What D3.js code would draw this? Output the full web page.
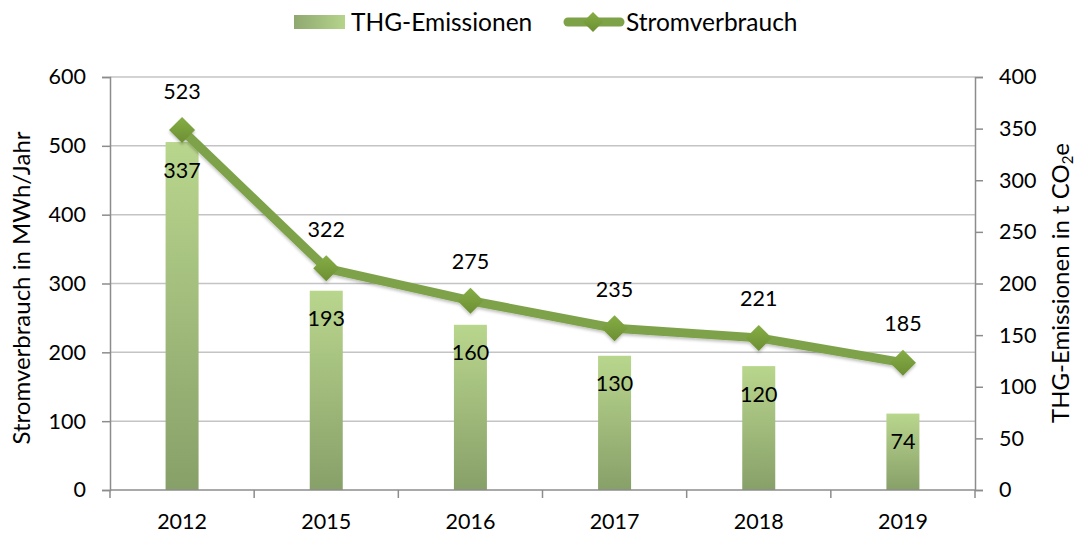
<!DOCTYPE html>
<html>
<head>
<style>
  body { margin: 0; background: #fff; }
  text { font-family: Lato, "Open Sans", sans-serif; fill: #000; }
  .grid line { stroke: #c4c4c4; stroke-width: 1.5; }
</style>
<script src="https://d3js.org/d3.v7.min.js"></script>
</head>
<body>
<svg width="1079" height="535"></svg>
<script>
var years = ["2012", "2015", "2016", "2017", "2018", "2019"];
var strom = [523, 322, 275, 235, 221, 185];   // MWh/Jahr, left axis
var thg = [337, 193, 160, 130, 120, 74];       // t CO2e, right axis
var leftTicks = [0, 100, 200, 300, 400, 500, 600];
var rightTicks = [0, 50, 100, 150, 200, 250, 300, 350, 400];

var svg = d3.select("svg");
var pLeft = 110, pRight = 975, pTop = 77, pBottom = 490;
var fs = "21.5px";

var x = d3.scaleBand().domain(years).range([pLeft, pRight]);
var yL = d3.scaleLinear().domain([0, 600]).range([pBottom, pTop]);
var yR = d3.scaleLinear().domain([0, 400]).range([pBottom, pTop]);

var defs = svg.append("defs");
var grad = defs.append("linearGradient").attr("id", "barGrad")
    .attr("x1", 0).attr("y1", 0).attr("x2", 0).attr("y2", 1);
grad.append("stop").attr("offset", "0%").attr("stop-color", "#b9d68d");
grad.append("stop").attr("offset", "100%").attr("stop-color", "#87a069");
var lgrad = defs.append("linearGradient").attr("id", "legGrad")
    .attr("x1", 0).attr("y1", 0).attr("x2", 1).attr("y2", 0);
lgrad.append("stop").attr("offset", "0%").attr("stop-color", "#8fa870");
lgrad.append("stop").attr("offset", "100%").attr("stop-color", "#b5d48b");
var mgrad = defs.append("linearGradient").attr("id", "mkGrad")
    .attr("x1", 0).attr("y1", 0).attr("x2", 0).attr("y2", 1);
mgrad.append("stop").attr("offset", "0%").attr("stop-color", "#86ad45");
mgrad.append("stop").attr("offset", "100%").attr("stop-color", "#6c8f33");
var sh = defs.append("filter").attr("id", "shadow")
    .attr("x", "-20%").attr("y", "-20%").attr("width", "140%").attr("height", "160%");
sh.append("feDropShadow").attr("dx", 0).attr("dy", 2).attr("stdDeviation", 1.5)
    .attr("flood-color", "#000").attr("flood-opacity", 0.25);

// gridlines
svg.append("g").attr("class", "grid")
  .selectAll("line").data(leftTicks.slice(1)).enter().append("line")
  .attr("x1", pLeft).attr("x2", pRight)
  .attr("y1", function(d) { return yL(d); }).attr("y2", function(d) { return yL(d); });

// bars
var bw = 33;
svg.append("g").selectAll("rect").data(thg).enter().append("rect")
  .attr("x", function(d, i) { return x(years[i]) + x.bandwidth() / 2 - bw / 2; })
  .attr("y", function(d) { return yR(d); })
  .attr("width", bw)
  .attr("height", function(d) { return pBottom - yR(d); })
  .attr("fill", "url(#barGrad)");

// axes
var axisColor = "#8c8c8c";
var gL = svg.append("g").attr("transform", "translate(" + pLeft + ",0)")
  .call(d3.axisLeft(yL).tickValues(leftTicks).tickSize(8).tickPadding(16));
var gR = svg.append("g").attr("transform", "translate(" + pRight + ",0)")
  .call(d3.axisRight(yR).tickValues(rightTicks).tickSize(8).tickPadding(16));
var gX = svg.append("g").attr("transform", "translate(0," + pBottom + ")")
  .call(d3.axisBottom(x).tickSize(0).tickPadding(24));
[gL, gR, gX].forEach(function(g) {
  g.select(".domain").attr("stroke", axisColor).attr("stroke-width", 1.5);
  g.selectAll(".tick line").attr("stroke", axisColor).attr("stroke-width", 1.5);
  g.selectAll(".tick text").style("font-family", "Lato, sans-serif").style("font-size", fs).attr("fill", "#000");
});
gX.select(".domain").attr("d", "M" + pLeft + ",0H" + pRight);
// category boundary ticks
svg.append("g").selectAll("line").data(d3.range(years.length + 1)).enter().append("line")
  .attr("x1", function(i) { return pLeft + i * x.step(); })
  .attr("x2", function(i) { return pLeft + i * x.step(); })
  .attr("y1", pBottom).attr("y2", pBottom + 8)
  .attr("stroke", axisColor).attr("stroke-width", 1.5);

// line
var line = d3.line()
  .x(function(d, i) { return x(years[i]) + x.bandwidth() / 2; })
  .y(function(d) { return yL(d); });
var lg = svg.append("g").attr("filter", "url(#shadow)");
lg.append("path").datum(strom).attr("d", line)
  .attr("fill", "none").attr("stroke", "#7ea248").attr("stroke-width", 9)
  .attr("stroke-linejoin", "round");
var ms = 13;
lg.selectAll(".mk").data(strom).enter().append("path")
  .attr("class", "mk")
  .attr("d", function(d, i) {
    var cx = x(years[i]) + x.bandwidth() / 2, cy = yL(d);
    return "M" + cx + "," + (cy - ms) + "L" + (cx + ms) + "," + cy + "L" + cx + "," + (cy + ms) + "L" + (cx - ms) + "," + cy + "Z";
  })
  .attr("fill", "url(#mkGrad)");

// labels
svg.append("g").selectAll("text").data(strom).enter().append("text")
  .attr("x", function(d, i) { return x(years[i]) + x.bandwidth() / 2; })
  .attr("y", function(d) { return yL(d) - 39; })
  .attr("text-anchor", "middle").attr("dy", "0.35em")
  .style("font-size", fs)
  .text(function(d) { return d; });
svg.append("g").selectAll("text").data(thg).enter().append("text")
  .attr("x", function(d, i) { return x(years[i]) + x.bandwidth() / 2; })
  .attr("y", function(d) { return yR(d) + 28; })
  .attr("text-anchor", "middle").attr("dy", "0.35em")
  .style("font-size", fs)
  .text(function(d) { return d; });

// axis titles
svg.append("text")
  .attr("transform", "translate(30,288) rotate(-90)")
  .attr("text-anchor", "middle")
  .style("font-size", "24px")
  .text("Stromverbrauch in MWh/Jahr");
var rt = svg.append("text")
  .attr("transform", "translate(1069,283) rotate(-90)")
  .attr("text-anchor", "middle")
  .style("font-size", "24px");
rt.append("tspan").text("THG-Emissionen in t CO");
rt.append("tspan").attr("dy", 4).style("font-size", "15px").text("2");
rt.append("tspan").attr("dy", -4).text("e");

// legend
svg.append("rect").attr("x", 294).attr("y", 15).attr("width", 51).attr("height", 14)
  .attr("fill", "url(#legGrad)");
svg.append("text").attr("x", 351).attr("y", 22).attr("dy", "0.35em")
  .style("font-size", "24.5px").text("THG-Emissionen");
svg.append("line").attr("x1", 568).attr("x2", 620).attr("y1", 22).attr("y2", 22)
  .attr("stroke", "#7ea248").attr("stroke-width", 9).attr("stroke-linecap", "round");
svg.append("path").attr("d", "M593,12L603,22L593,32L583,22Z").attr("fill", "url(#mkGrad)");
svg.append("text").attr("x", 626).attr("y", 22).attr("dy", "0.35em")
  .style("font-size", "24.5px").text("Stromverbrauch");
</script>
</body>
</html>
